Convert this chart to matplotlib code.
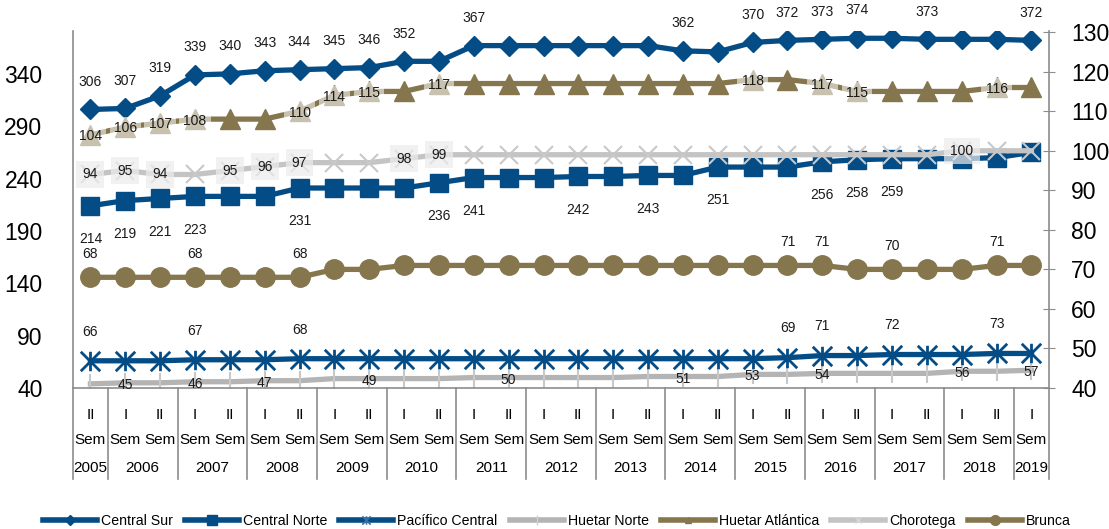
import numpy as np
import matplotlib.pyplot as plt
from matplotlib.path import Path
from matplotlib.lines import Line2D
import matplotlib.transforms as mtransforms

plt.rcParams['font.family'] = ['Liberation Sans', 'DejaVu Sans']

# semesters 2005-II .. 2019-I
sem = ['II'] + ['I', 'II'] * 13 + ['I']
years = [str(y) for y in range(2005, 2020)]

central_sur = [306, 307, 319, 339, 340, 343, 344, 345, 346, 352, 352, 367, 367, 367,
               367, 367, 367, 362, 361, 370, 372, 373, 374, 374, 373, 373, 373, 372]
central_norte = [214, 219, 221, 223, 223, 223, 231, 231, 231, 231, 236, 241, 241, 241,
                 242, 242, 243, 243, 251, 251, 251, 256, 258, 259, 259, 259, 260, 265]
pacifico = [66, 66, 66, 67, 67, 67, 68, 68, 68, 68, 68, 68, 68, 68,
            68, 68, 68, 68, 68, 68, 69, 71, 71, 72, 72, 72, 73, 73]
huetar_norte = [44, 45, 45, 46, 46, 47, 47, 49, 49, 49, 49, 50, 50, 50,
                50, 50, 51, 51, 51, 53, 53, 54, 54, 54, 54, 56, 56, 57]
huetar_atl = [104, 106, 107, 108, 108, 108, 110, 114, 115, 115, 117, 117, 117, 117,
              117, 117, 117, 117, 117, 118, 118, 117, 115, 115, 115, 115, 116, 116]
chorotega = [94, 95, 94, 94, 95, 96, 97, 97, 97, 98, 99, 99, 99, 99,
             99, 99, 99, 99, 99, 99, 99, 99, 99, 99, 99, 100, 100, 100]
brunca = [68, 68, 68, 68, 68, 68, 68, 70, 70, 71, 71, 71, 71, 71,
          71, 71, 71, 71, 71, 71, 71, 71, 70, 70, 70, 70, 71, 71]

# which points carry a data label
lab_sur = [0, 1, 2, 3, 4, 5, 6, 7, 8, 9, 11, 17, 19, 20, 21, 22, 24, 27]
lab_norte = [0, 1, 2, 3, 6, 10, 11, 14, 16, 18, 21, 22, 23]
lab_pac = [0, 3, 6, 20, 21, 23, 26]
lab_hn = [1, 3, 5, 8, 12, 17, 19, 21, 25, 27]
lab_ha = [0, 1, 2, 3, 6, 7, 8, 10, 19, 21, 22, 26]
lab_cho = [0, 1, 2, 4, 5, 6, 9, 10, 25]
lab_bru = [0, 3, 6, 20, 21, 23, 26]

blue = '#034C86'
tan = '#86764E'
gray = '#B4B4B4'
lgray = '#C4C4C4'
axgray = '#8C8C8C'

star = Path([(0, -1), (0, 1), (-1, -1), (1, 1), (-1, 1), (1, -1)],
            [Path.MOVETO, Path.LINETO, Path.MOVETO, Path.LINETO, Path.MOVETO, Path.LINETO])

x = np.arange(len(sem))

fig = plt.figure(figsize=(11.09, 5.29), dpi=100)
ax = fig.add_axes([0.0658, 0.2665, 0.880, 0.675])
ax2 = ax.twinx()

ax.plot(x, huetar_norte, color=gray, lw=3.8, marker='|', ms=15, mew=1.5, mec='#C8C8C8', zorder=2)
ax.plot(x, pacifico, color=blue, lw=3.8, marker=star, ms=14, mew=2, mfc='none', mec=blue, zorder=3)
ax.plot(x, central_norte, color=blue, lw=3.8, marker='s', ms=13, zorder=3)
ax.plot(x, central_sur, color=blue, lw=3.8, marker='D', ms=10, zorder=3)

ax2.plot(x, huetar_atl, color=tan, lw=3.8, marker='^', ms=14, zorder=3)
ax2.plot(x, chorotega, color=lgray, lw=3.8, marker='x', ms=13, mew=1.5, mec='#C8C8C8', zorder=3)
ax2.plot(x, brunca, color=tan, lw=3.8, marker='o', ms=14, zorder=3)

fs = 10


def labels(a, vals, idx, dy, box=None):
    for i in idx:
        a.annotate(str(vals[i]), (x[i], vals[i]), xytext=(0, dy), textcoords='offset points',
                   ha='center', va='center', fontsize=fs, color='#1A1A1A', zorder=10,
                   bbox=box)


labels(ax, central_sur, lab_sur, 20)
labels(ax, central_norte, lab_norte, -24)
labels(ax, pacifico, lab_pac, 21)
labels(ax, huetar_norte, lab_hn, -1.5)
labels(ax2, huetar_atl, lab_ha, -1,
       dict(boxstyle='square,pad=0.3', fc='white', ec='none', alpha=0.55))
labels(ax2, chorotega, lab_cho, 0,
       dict(boxstyle='square,pad=0.45', fc='#ECECEC', ec='none', alpha=0.7))
labels(ax2, brunca, lab_bru, 17)

ax.set_xlim(-0.5, len(sem) - 0.5)
ax.set_ylim(40, 381)
ax2.set_ylim(40, 130.3)
ax.set_yticks(range(40, 341, 50))
ax2.set_yticks(range(40, 131, 10))
ax.set_xticks([])

ax.tick_params(axis='y', length=0, pad=22, labelsize=16.5)
ax2.tick_params(axis='y', direction='inout', length=8, color=axgray, pad=12, labelsize=16.5)

for s in ['top', 'right']:
    ax.spines[s].set_visible(False)
for s in ['top', 'left', 'bottom']:
    ax2.spines[s].set_visible(False)
ax.spines['left'].set_color(axgray)
ax.spines['bottom'].set_color(axgray)
ax2.spines['right'].set_color(axgray)
ax.spines['left'].set_linewidth(1.2)
ax.spines['bottom'].set_linewidth(1.2)
ax2.spines['right'].set_linewidth(1.2)

# grouped category axis
tr = mtransforms.blended_transform_factory(ax.transData, ax.transAxes)
for i in x:
    ax.text(i, -0.075, sem[i], transform=tr, ha='center', va='center', fontsize=11)
    ax.text(i, -0.145, 'Sem', transform=tr, ha='center', va='center', fontsize=11)
year_pos = [0] + [2 * k - 0.5 for k in range(1, 14)] + [27]
for yp, yr in zip(year_pos, years):
    ax.text(yp, -0.224, yr, transform=tr, ha='center', va='center', fontsize=11)
dividers = [-0.5] + [2 * k - 1.5 for k in range(1, 15)] + [27.5]
for d in dividers:
    ax.plot([d, d], [0, -0.255], transform=tr, color=axgray, lw=1.2, clip_on=False)

# legend
handles = [
    Line2D([], [], color=blue, lw=4, marker='D', ms=5),
    Line2D([], [], color=blue, lw=4, marker='s', ms=7),
    Line2D([], [], color=blue, lw=4, marker=star, ms=6, mew=1.2, mec='#3A6EA0'),
    Line2D([], [], color=gray, lw=4, marker='|', ms=7, mec='#D0D0D0'),
    Line2D([], [], color=tan, lw=4, marker='^', ms=5),
    Line2D([], [], color=lgray, lw=4, marker='x', ms=5, mec='#D8D8D8'),
    Line2D([], [], color=tan, lw=4, marker='o', ms=7),
]
names = ['Central Sur', 'Central Norte', 'Pacífico Central', 'Huetar Norte',
         'Huetar Atlántica', 'Chorotega', 'Brunca']
fig.legend(handles, names, loc='lower center', bbox_to_anchor=(0.502, -0.022), ncol=7,
           frameon=False, fontsize=10.2, handlelength=3.8, handletextpad=0.3,
           columnspacing=0.85)

plt.savefig('out.png')
